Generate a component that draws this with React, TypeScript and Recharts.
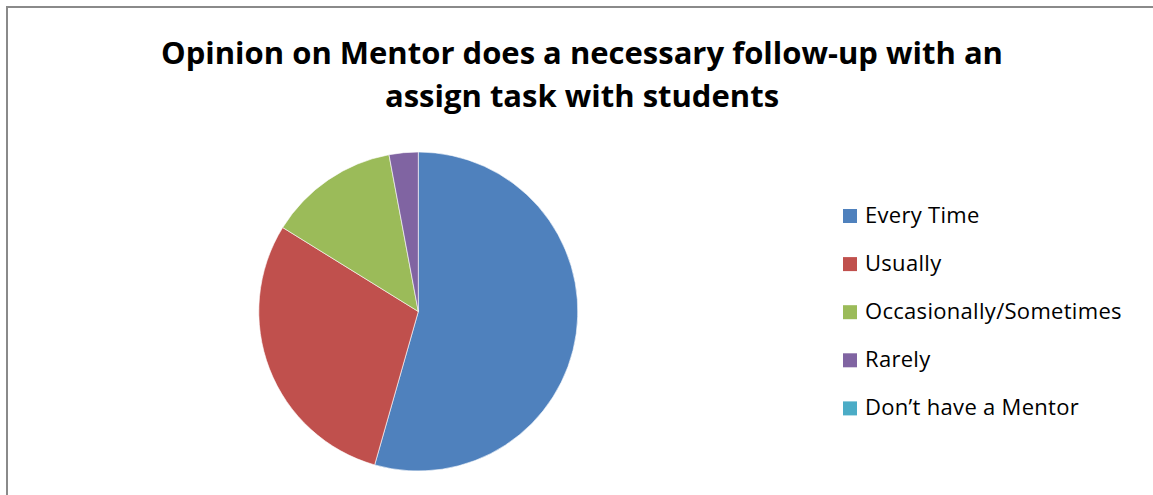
import React from 'react';
import { PieChart, Pie, Cell, Legend } from 'recharts';

const categories = ['Every Time', 'Usually', 'Occasionally/Sometimes', 'Rarely', 'Don\u2019t have a Mentor'];
const values = [37, 20, 9, 2, 0];
const colors = ['#4F81BD', '#C0504D', '#9BBB59', '#8064A2', '#4BACC6'];
const titleLines = ['Opinion on Mentor does a necessary follow-up with an', 'assign task with students'];

const data = categories.map((name, i) => ({ name, value: values[i] }));

const FONT = '"Open Sans", Lato, sans-serif';

const LegendContent = () => (
  <svg width={310} height={230} style={{ display: 'block', overflow: 'visible' }}>
    {categories.map((c, i) => (
      <g key={c}>
        <rect x={8} y={9 + i * 48.1} width={14} height={14} fill={colors[i]} />
        <text x={30} y={22.7 + i * 48.1} fontFamily={FONT} fontSize={22} letterSpacing={0.3} fill="#000">
          {c}
        </text>
      </g>
    ))}
  </svg>
);

export default function App() {
  return (
    <div style={{ position: 'absolute', left: 0, top: 0, width: 1153, height: 495, overflow: 'hidden', background: '#fff' }}>
      <div
        style={{
          position: 'absolute',
          left: 6,
          top: 6,
          width: 1300,
          height: 700,
          border: '2px solid #8a8a8a',
          boxSizing: 'border-box',
        }}
      />
      <svg width={1153} height={130} style={{ position: 'absolute', left: 0, top: 0 }}>
        {titleLines.map((t, i) => (
          <text
            key={i}
            x={582}
            y={64.3 + i * 43}
            textAnchor="middle"
            fontFamily={FONT}
            fontWeight={700}
            fontSize={31}
            fill="#000"
          >
            {t}
          </text>
        ))}
      </svg>
      <div style={{ position: 'absolute', left: 0, top: 0 }}>
        <PieChart width={1153} height={495} margin={{ top: 0, right: 0, bottom: 0, left: 0 }}>
          <Pie
            data={data}
            dataKey="value"
            nameKey="name"
            cx={418.3}
            cy={311.5}
            outerRadius={159.5}
            startAngle={90}
            endAngle={-270}
            stroke="#ffffff"
            strokeWidth={0.6}
            isAnimationActive={false}
            label={false}
            labelLine={false}
          >
            {data.map((d, i) => (
              <Cell key={d.name} fill={colors[i]} />
            ))}
          </Pie>
          <Legend
            content={<LegendContent />}
            wrapperStyle={{ left: 835, top: 200, width: 310, height: 230, bottom: 'auto', right: 'auto' }}
          />
        </PieChart>
      </div>
    </div>
  );
}
